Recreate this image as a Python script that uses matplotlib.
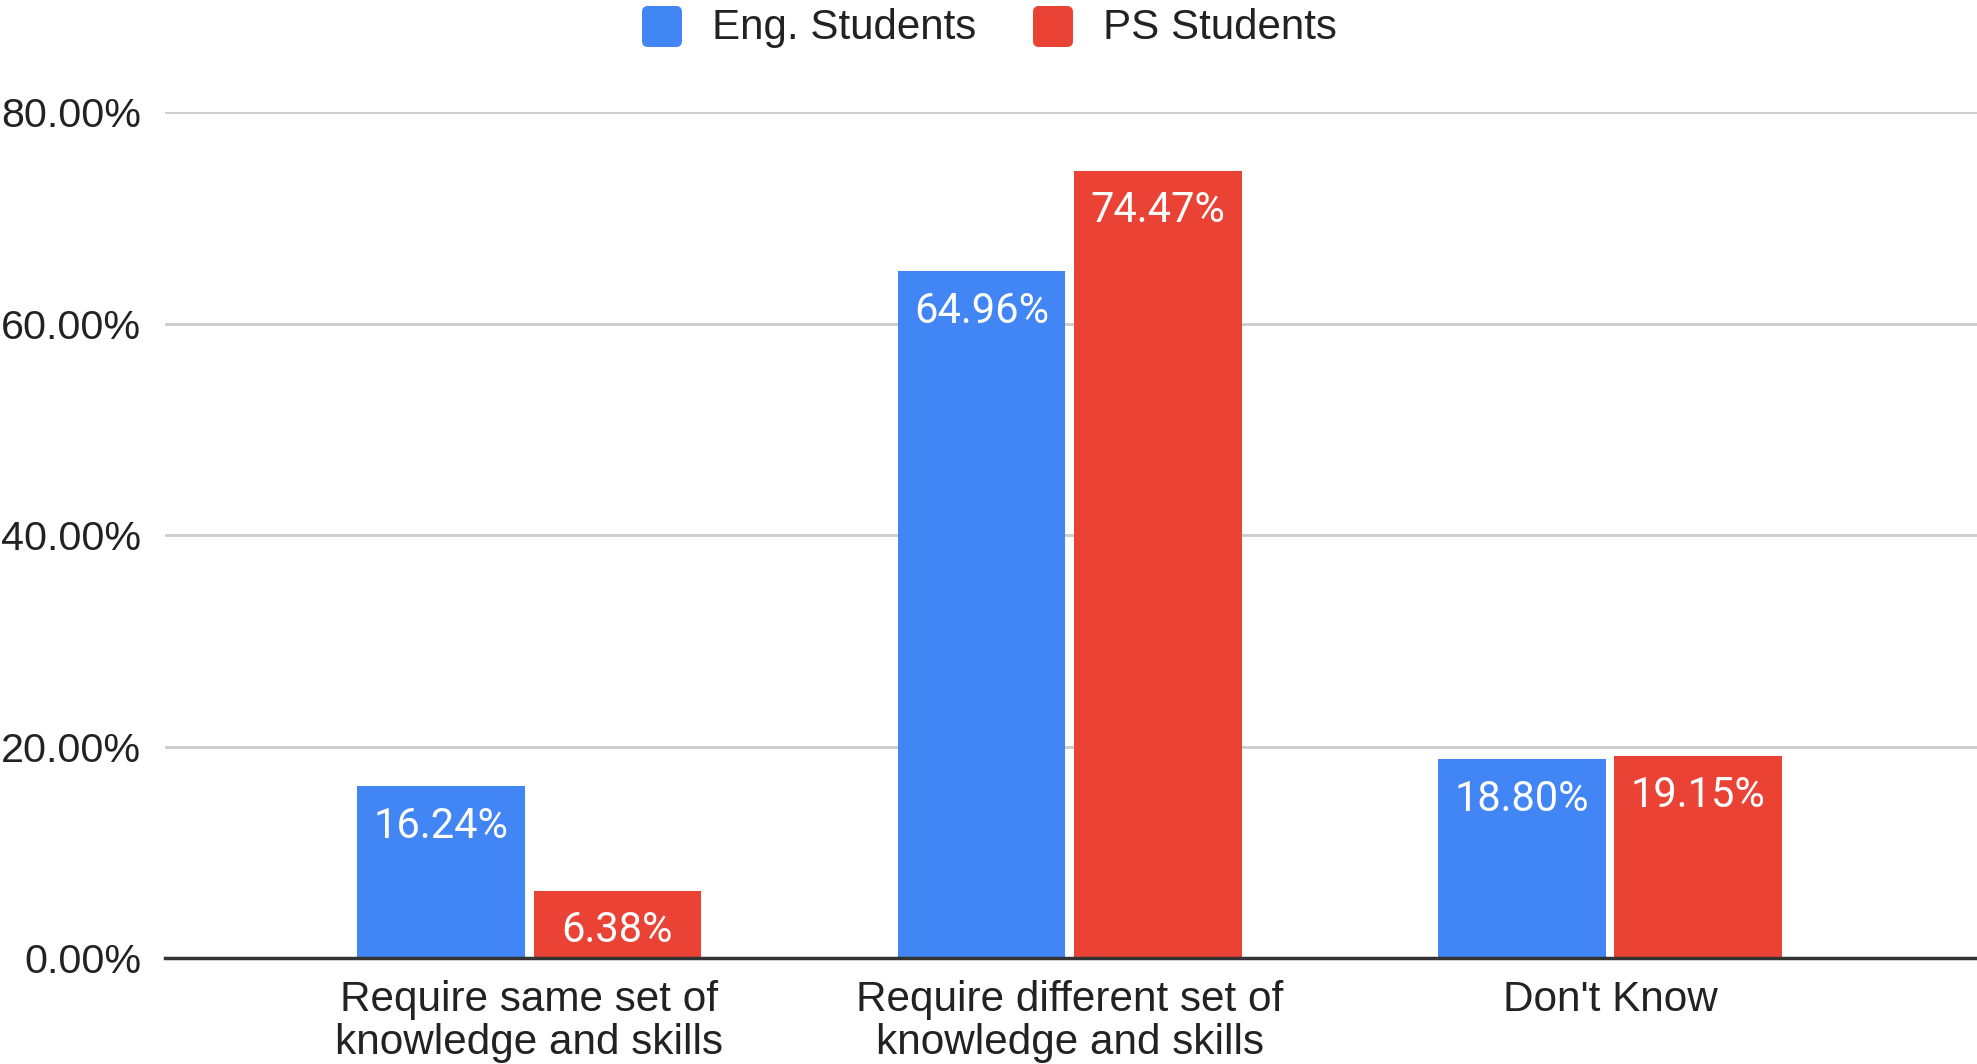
import matplotlib
matplotlib.use("Agg")
import matplotlib.pyplot as plt
import numpy as np
from matplotlib.patches import FancyBboxPatch
from matplotlib.ticker import FuncFormatter

categories = ["Require same set of\nknowledge and skills",
              "Require different set of\nknowledge and skills",
              "Don't Know"]
eng_students = [16.24, 64.96, 18.80]
ps_students = [6.38, 74.47, 19.15]
series_names = ["Eng. Students", "PS Students"]
y_ticks = [0, 20, 40, 60, 80]

BLUE = "#4285F4"
RED = "#EA4335"

fig = plt.figure(figsize=(19.77, 10.64), dpi=100)
ax = fig.add_axes([0.0835, 0.0996, 0.9165, 0.7951])

x = np.arange(len(categories))
width = 0.31
offset = 0.163

for vals, color, dx in ((eng_students, BLUE, -offset), (ps_students, RED, offset)):
    bars = ax.bar(x + dx, vals, width=width, color=color, zorder=3)
    for b, v in zip(bars, vals):
        ax.annotate(f"{v:.2f}%", xy=(b.get_x() + b.get_width() / 2, v),
                    xytext=(0, -29), textcoords="offset points",
                    ha="center", va="center", color="white",
                    fontsize=30, family="Roboto", zorder=4)

ax.set_xlim(-0.674, 2.679)
ax.set_ylim(0, 80)
ax.set_yticks(y_ticks)
ax.yaxis.set_major_formatter(FuncFormatter(lambda v, p: f"{v:.2f}%"))
ax.set_xticks(x)
ax.set_xticklabels(categories, linespacing=1.09)
ax.tick_params(axis="y", length=0, pad=17, labelsize=29.7)
ax.tick_params(axis="x", length=0, pad=16, labelsize=30.4)
for lab in ax.get_xticklabels() + ax.get_yticklabels():
    lab.set_family("Liberation Sans")
    lab.set_color("#222222")

ax.grid(axis="y", color="#cccccc", linewidth=2, zorder=0)
for s in ("top", "right", "left"):
    ax.spines[s].set_visible(False)
ax.spines["bottom"].set_color("#333333")
ax.spines["bottom"].set_linewidth(2.5)
ax.spines["bottom"].set_zorder(5)

# Legend at the top, drawn in figure pixel coordinates
W, H = 1977, 1064
legend_items = [(series_names[0], BLUE, 642, 712), (series_names[1], RED, 1033, 1103)]
for name, color, sx, tx in legend_items:
    sq = FancyBboxPatch((sx / W, (H - 47) / H), 40 / W, 41 / H,
                        boxstyle="round,pad=0,rounding_size=0.003",
                        transform=fig.transFigure, facecolor=color,
                        edgecolor="none", mutation_aspect=W / H)
    fig.patches.append(sq)
    fig.text(tx / W, (H - 28) / H, name, ha="left", va="center",
             fontsize=30.3, family="Liberation Sans", color="#222222")

fig.savefig("out.png", dpi=100)
